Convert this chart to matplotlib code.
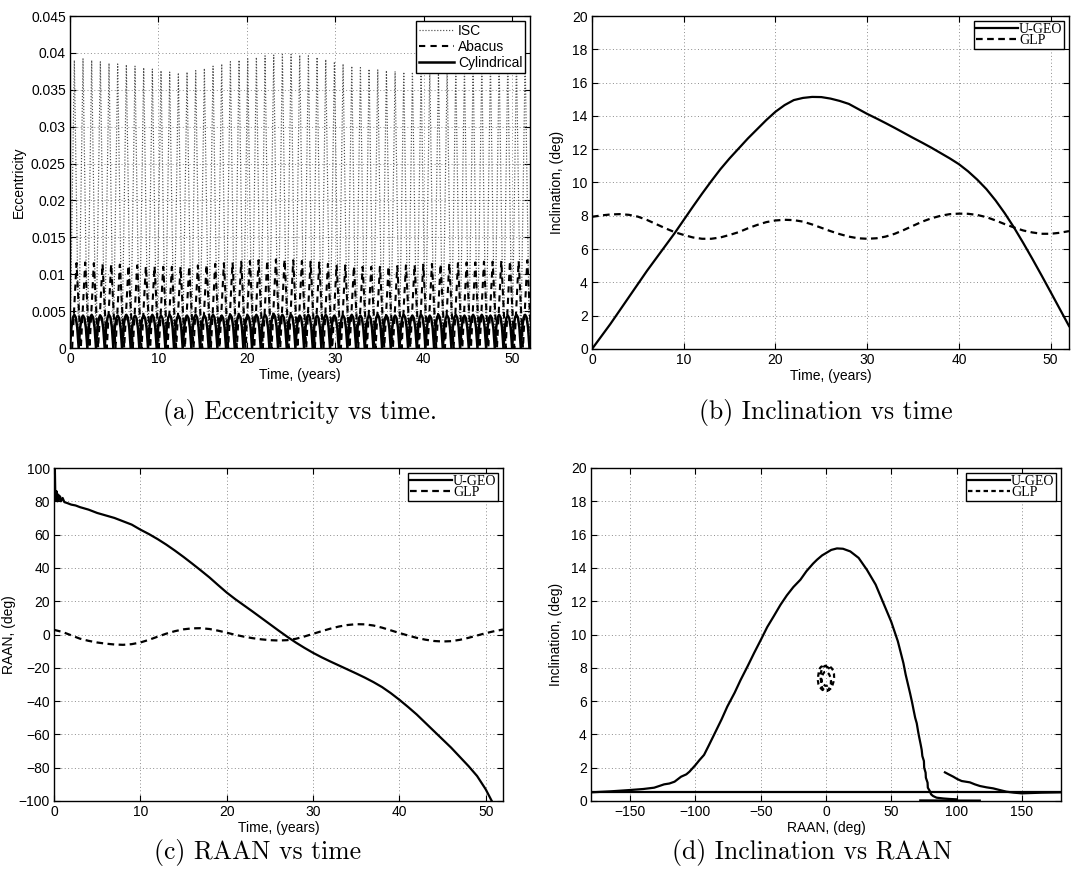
import numpy as np
import matplotlib
matplotlib.use("Agg")
import matplotlib.pyplot as plt
from matplotlib.ticker import FuncFormatter, MultipleLocator

# ---------------- data ----------------
# (a) eccentricity: one peak value per oscillation (period ~0.98 yr)
ecc_period = 0.98
isc_peaks = [0.0390, 0.0392, 0.0390, 0.0388, 0.0386, 0.0385, 0.0384, 0.0382, 0.0380, 0.0378,
             0.0376, 0.0374, 0.0373, 0.0374, 0.0376, 0.0379, 0.0382, 0.0385, 0.0388, 0.0390,
             0.0392, 0.0394, 0.0396, 0.0397, 0.0398, 0.0398, 0.0397, 0.0396, 0.0394, 0.0391,
             0.0388, 0.0385, 0.0382, 0.0380, 0.0378, 0.0377, 0.0376, 0.0375, 0.0374, 0.0374,
             0.0374, 0.0375, 0.0376, 0.0377, 0.0378, 0.0380, 0.0382, 0.0384, 0.0386, 0.0388,
             0.0390, 0.0392, 0.0394]
abacus_peaks = [0.0115, 0.0116, 0.0115, 0.0114, 0.0114, 0.0113, 0.0112, 0.0112, 0.0111, 0.0111,
                0.0110, 0.0110, 0.0110, 0.0111, 0.0112, 0.0113, 0.0114, 0.0115, 0.0116, 0.0117,
                0.0118, 0.0119, 0.0119, 0.0120, 0.0120, 0.0119, 0.0118, 0.0117, 0.0116, 0.0114,
                0.0113, 0.0112, 0.0111, 0.0110, 0.0110, 0.0110, 0.0111, 0.0111, 0.0112, 0.0113,
                0.0113, 0.0114, 0.0114, 0.0115, 0.0115, 0.0116, 0.0116, 0.0117, 0.0117, 0.0118,
                0.0118, 0.0118, 0.0119]
cyl_peaks = [0.0045, 0.0044, 0.0045, 0.0044, 0.0045, 0.0044, 0.0045, 0.0044, 0.0044, 0.0045,
             0.0044, 0.0045, 0.0044, 0.0044, 0.0045, 0.0044, 0.0045, 0.0044, 0.0045, 0.0045,
             0.0044, 0.0045, 0.0045, 0.0046, 0.0045, 0.0045, 0.0044, 0.0045, 0.0044, 0.0045,
             0.0044, 0.0044, 0.0045, 0.0044, 0.0044, 0.0045, 0.0044, 0.0044, 0.0045, 0.0044,
             0.0045, 0.0044, 0.0045, 0.0044, 0.0045, 0.0044, 0.0045, 0.0045, 0.0044, 0.0045,
             0.0044, 0.0045, 0.0045]
cyl_shape = [0.0, 0.62, 0.92, 1.0, 0.92, 0.62]   # profile of one Cylindrical oscillation

# (b) inclination vs time
ugeo_t = list(range(0, 53))
ugeo_inc = [0.0, 0.75, 1.5, 2.3, 3.1, 3.9, 4.7, 5.45, 6.2, 6.95,
            7.75, 8.55, 9.33, 10.08, 10.8, 11.45, 12.05, 12.65, 13.2, 13.75,
            14.25, 14.65, 14.95, 15.08, 15.14, 15.13, 15.04, 14.9, 14.72, 14.42,
            14.12, 13.85, 13.57, 13.28, 12.98, 12.68, 12.39, 12.09, 11.77, 11.45,
            11.1, 10.67, 10.17, 9.6, 8.92, 8.15, 7.3, 6.38, 5.42, 4.43,
            3.42, 2.4, 1.38]
glp_t = list(range(0, 53))
glp_inc = [7.94, 8.02, 8.08, 8.10, 8.06, 7.95, 7.75, 7.50, 7.25, 7.02,
           6.85, 6.70, 6.62, 6.62, 6.70, 6.85, 7.02, 7.25, 7.45, 7.62,
           7.72, 7.76, 7.74, 7.65, 7.48, 7.28, 7.08, 6.90, 6.75, 6.65,
           6.62, 6.65, 6.75, 6.92, 7.15, 7.40, 7.65, 7.85, 8.00, 8.10,
           8.13, 8.12, 8.05, 7.92, 7.72, 7.50, 7.30, 7.12, 7.00, 6.92,
           6.92, 6.98, 7.08]

# (c) RAAN vs time
ugeo_raan_t = [0, 0.05, 0.1, 0.15, 0.2, 0.3, 0.4, 0.5, 0.6, 0.7, 0.8, 1.0, 1.2, 1.5, 2.0, 2.5, 3,
               4, 5, 6, 7, 8, 9, 10, 11, 12, 13, 14, 15, 16, 17, 18, 19, 20, 21, 22, 23, 24,
               25, 26, 27, 28, 29, 30, 31, 32, 33, 34, 35, 36, 37, 38, 39, 40, 41, 42, 43, 44,
               45, 46, 47, 48, 49, 49.5, 50, 50.3, 50.6, 50.8]
ugeo_raan = [97, 80, 100, 84, 81, 86, 80, 84, 81, 83, 80, 82, 79.5, 79, 78, 77.5, 76.5,
             75, 73, 71.5, 70, 68, 66, 63, 60.3, 57.3, 54, 50.4, 46.6, 42.6, 38.5, 34.3, 29.7,
             25.2, 21.2, 17.5, 13.8, 10.0, 6.2, 2.4, -1.3, -4.8, -8.0, -11.0, -13.7, -16.2,
             -18.6, -21.0, -23.4, -25.9, -28.6, -31.6, -35.2, -39.2, -43.5, -48, -53, -58,
             -63, -68, -73.5, -79, -85, -89, -93, -96, -99, -101]
glp_raan = [2.8, 1.5, -0.5, -2.5, -3.8, -4.8, -5.5, -6.0, -6.2, -5.8,
            -4.8, -3.2, -1.3, 0.5, 2.0, 3.1, 3.7, 3.8, 3.3, 2.3,
            1.1, -0.2, -1.3, -2.2, -2.9, -3.4, -3.6, -3.4, -2.6, -1.2,
            0.4, 2.0, 3.5, 4.8, 5.7, 6.2, 6.1, 5.4, 4.1, 2.5,
            0.9, -0.6, -2.0, -3.1, -3.9, -4.2, -4.0, -3.2, -2.0, -0.6,
            0.8, 2.0, 3.0]

# (d) inclination vs RAAN for U-GEO (wrapped track)
d_flat_raan = [-180, 180]
d_flat_inc = [0.52, 0.52]
d_main_raan = [-180, -165, -150, -140, -131.6, -127, -124, -120, -116, -111, -107, -104.6,
               -100, -97, -93.4, -90, -85.8, -80, -75.6, -70, -65.4, -60, -55, -49.9, -45,
               -40, -34.9, -30, -25, -19.6, -15, -10, -6.9, -3, 0, 4, 8.4, 13, 18.6, 25,
               31.3, 38, 44, 49.9, 55, 59.3, 61, 62.5, 64.4, 66, 67, 68.3, 69.5, 70.5, 71.2,
               72.5, 73.3, 73.8, 75, 75.2, 76.3, 76.5, 77.8, 78, 79.5, 80.5, 82, 84.7, 90,
               95, 100]
d_main_inc = [0.52, 0.58, 0.66, 0.72, 0.8, 0.92, 1.0, 1.05, 1.16, 1.46, 1.6, 1.76,
              2.16, 2.45, 2.77, 3.3, 3.97, 4.9, 5.67, 6.5, 7.27, 8.1, 8.9, 9.68, 10.45,
              11.1, 11.78, 12.35, 12.85, 13.29, 13.8, 14.25, 14.49, 14.75, 14.89, 15.08,
              15.17, 15.15, 14.99, 14.6, 13.89, 13.0, 11.88, 10.78, 9.6, 8.28, 7.6, 7.1,
              6.47, 5.9, 5.5, 5.0, 4.67, 4.2, 3.9, 3.4, 3.07, 2.7, 2.4, 2.0, 1.7, 1.4, 1.1,
              0.8, 0.6, 0.4, 0.3, 0.2, 0.15, 0.12, 0.1]
d_tail_raan = [72, 118]
d_tail_inc = [0.05, 0.04]
d_right_raan = [91.1, 94, 97.5, 100.5, 103.9, 107, 110.2, 114, 117.9, 123, 128, 133, 138.2,
                144, 150, 165, 180]
d_right_inc = [1.72, 1.6, 1.46, 1.32, 1.2, 1.16, 1.12, 1.0, 0.9, 0.82, 0.76, 0.66, 0.56,
               0.5, 0.46, 0.5, 0.52]

captions = ["(a) Eccentricity vs time.", "(b) Inclination vs time",
            "(c) RAAN vs time", "(d) Inclination vs RAAN"]

# ---------------- helpers ----------------
SANS = "Liberation Sans"
SERIF = "Liberation Serif"
plt.rcParams["font.family"] = SANS
plt.rcParams["font.size"] = 10


def zigzag(peaks, period):
    t, v = [], []
    for k, p in enumerate(peaks):
        t += [k * period, k * period + period / 2]
        v += [0.0, p]
    t.append(len(peaks) * period)
    v.append(0.0)
    return np.array(t), np.array(v)


def shaped(peaks, period, shape):
    n = len(shape)
    t, v = [], []
    for k, p in enumerate(peaks):
        for j, s in enumerate(shape):
            t.append(k * period + period * j / n)
            v.append(p * s)
    t.append(len(peaks) * period)
    v.append(0.0)
    return np.array(t), np.array(v)


def style(ax):
    ax.tick_params(direction="in", top=True, right=True, length=4, width=0.8,
                   labelsize=10, pad=3)
    for s in ax.spines.values():
        s.set_linewidth(1.0)
    ax.grid(True, color="0.55", linestyle=(0, (1, 2.5)), linewidth=0.7)
    ax.set_axisbelow(True)


def serif_legend(ax, handles, labels):
    lg = ax.legend(handles, labels, loc="upper right", prop={"family": SERIF, "size": 10},
                   frameon=True, fancybox=False, edgecolor="black", framealpha=1,
                   handlelength=3.0, handletextpad=0.1, labelspacing=-0.12,
                   borderpad=0.12, borderaxespad=0.35)
    lg.get_frame().set_linewidth(1.0)
    return lg


fig = plt.figure(figsize=(10.71, 8.81), dpi=100)
W, H = 1071.0, 881.0


def axes_px(l, t, r, b):
    return fig.add_axes([l / W, 1 - b / H, (r - l) / W, (b - t) / H])


# ---------------- (a) ----------------
ax = axes_px(70, 16, 530, 348)
style(ax)
t1, v1 = zigzag(isc_peaks, ecc_period)
t2, v2 = zigzag(abacus_peaks, ecc_period)
t3, v3 = shaped(cyl_peaks, ecc_period, cyl_shape)
h1, = ax.plot(t1, v1, color="0.3", linestyle=(0, (1, 1.5)), linewidth=0.85)
h2, = ax.plot(t2 + ecc_period * 0.25, v2, color="black", linestyle=(0, (3, 2.5)), linewidth=1.5)
h3, = ax.plot(t3, v3, color="black", linestyle="-", linewidth=1.8)
ax.set_xlim(0, 52)
ax.set_ylim(0, 0.045)
ax.xaxis.set_major_locator(MultipleLocator(10))
ax.yaxis.set_major_locator(MultipleLocator(0.005))
ax.yaxis.set_major_formatter(FuncFormatter(lambda v, p: f"{v:g}"))
ax.set_xlabel("Time, (years)", fontsize=10, labelpad=1)
ax.set_ylabel("Eccentricity", fontsize=10, labelpad=4)
lg = ax.legend([h1, h2, h3], ["ISC", "Abacus", "Cylindrical"], loc="upper right",
               prop={"family": SANS, "size": 10}, frameon=True, fancybox=False,
               edgecolor="black", framealpha=1, handlelength=2.5, handletextpad=0.3,
               labelspacing=0.15, borderpad=0.2, borderaxespad=0.35)
lg.get_frame().set_linewidth(1.0)

# ---------------- (b) ----------------
ax = axes_px(592, 16, 1069, 349)
style(ax)
hb1, = ax.plot(ugeo_t, ugeo_inc, color="black", linewidth=1.6)
hb2, = ax.plot(glp_t, glp_inc, color="black", linestyle=(0, (3, 2)), linewidth=1.6)
ax.set_xlim(0, 52)
ax.set_ylim(0, 20)
ax.xaxis.set_major_locator(MultipleLocator(10))
ax.yaxis.set_major_locator(MultipleLocator(2))
ax.set_xlabel("Time, (years)", fontsize=10, labelpad=1)
ax.set_ylabel("Inclination, (deg)", fontsize=10, labelpad=6)
serif_legend(ax, [hb1, hb2], ["U-GEO", "GLP"])

# ---------------- (c) ----------------
ax = axes_px(54, 468, 503, 801)
style(ax)
hc1, = ax.plot(ugeo_raan_t, ugeo_raan, color="black", linewidth=1.6)
hc2, = ax.plot(glp_t, glp_raan, color="black", linestyle=(0, (3, 2)), linewidth=1.6)
ax.set_xlim(0, 52)
ax.set_ylim(-100, 100)
ax.xaxis.set_major_locator(MultipleLocator(10))
ax.yaxis.set_major_locator(MultipleLocator(20))
ax.set_xlabel("Time, (years)", fontsize=10, labelpad=1)
ax.set_ylabel("RAAN, (deg)", fontsize=10, labelpad=2)
serif_legend(ax, [hc1, hc2], ["U-GEO", "GLP"])

# ---------------- (d) ----------------
ax = axes_px(591, 468, 1061, 801)
style(ax)
hd1, = ax.plot(d_main_raan, d_main_inc, color="black", linewidth=1.6)
ax.plot(d_flat_raan, d_flat_inc, color="black", linewidth=1.6)
ax.plot(d_tail_raan, d_tail_inc, color="black", linewidth=1.2)
ax.plot(d_right_raan, d_right_inc, color="black", linewidth=1.6)
hd2, = ax.plot(glp_raan, glp_inc, color="black", linestyle=(0, (2, 1.5)), linewidth=1.6)
ax.set_xlim(-180, 180)
ax.set_ylim(0, 20)
ax.xaxis.set_major_locator(MultipleLocator(50))
ax.yaxis.set_major_locator(MultipleLocator(2))
ax.set_xlabel("RAAN, (deg)", fontsize=10, labelpad=1)
ax.set_ylabel("Inclination, (deg)", fontsize=10, labelpad=6)
serif_legend(ax, [hd1, hd2], ["U-GEO", "GLP"])

# ---------------- captions ----------------
cap_pos = [(300, 412), (826, 412), (258, 853), (812, 853)]
for (x, y), txt in zip(cap_pos, captions):
    fig.text(x / W, 1 - y / H, txt, ha="center", va="center", fontsize=18.5, family="cmr10")

fig.savefig("out.png", dpi=100)
